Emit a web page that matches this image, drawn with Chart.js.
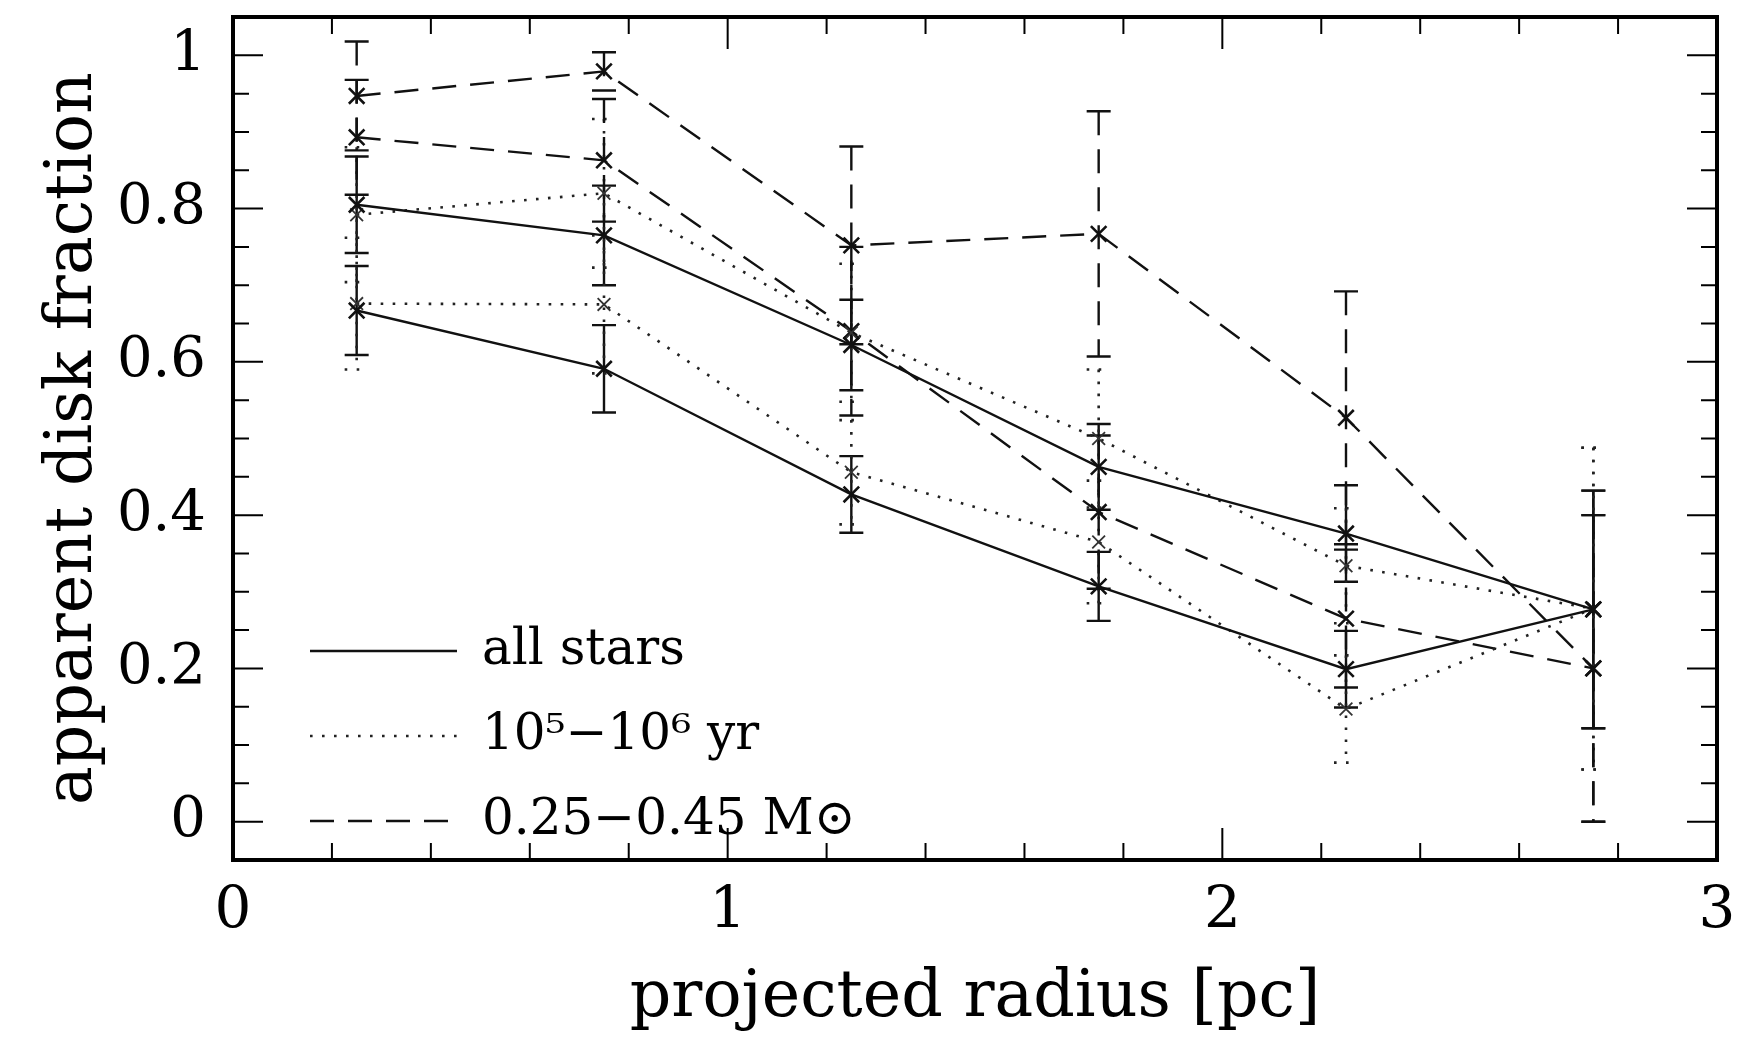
<!DOCTYPE html>
<html><head><meta charset="utf-8">
<script src="https://cdn.jsdelivr.net/npm/chart.js@4.4.1/dist/chart.umd.min.js"></script>
<style>html,body{margin:0;padding:0;background:#fff;} canvas{display:block;}</style>
</head><body>
<canvas id="c" width="1748" height="1038"></canvas>
<script>
// ---------- data ----------
const radius = [0.25, 0.75, 1.25, 1.75, 2.25, 2.75];
const allStarsHigh    = [0.805, 0.765, 0.622, 0.463, 0.376, 0.277];
const allStarsHighErr = [0.063, 0.065, 0.059, 0.056, 0.063, 0.155];
const allStarsLow     = [0.667, 0.591, 0.427, 0.307, 0.199, 0.277];
const allStarsLowErr  = [0.058, 0.057, 0.050, 0.045, 0.050, 0.155];
const youngHigh       = [0.792, 0.820, 0.638, 0.500, 0.334, 0.278];
const youngHighErr    = [0.088, 0.097, 0.090, 0.090, 0.075, 0.210];
const youngLow        = [0.676, 0.675, 0.456, 0.365, 0.147, 0.278];
const youngLowErr     = [0.086, 0.090, 0.068, 0.080, 0.070, 0.210];
const massHigh        = [0.947, 0.979, 0.752, 0.767, 0.527, 0.200];
const massHighErr     = [0.071, 0.025, 0.129, 0.160, 0.165, 0.200];
const massLow         = [0.893, 0.863, 0.640, 0.404, 0.265, 0.200];
const massLowErr      = [0.075, 0.080, 0.110, 0.100, 0.090, 0.200];
const legendLabels = ['all stars', '10\u2075\u221210\u2076 yr', '0.25\u22120.45 M\u2299'];
const xTickValues = [0, 1, 2, 3];
const xTickLabels = ['0', '1', '2', '3'];
const yTickValues = [0, 0.2, 0.4, 0.6, 0.8, 1];
const yTickLabels = ['0', '0.2', '0.4', '0.6', '0.8', '1'];
const xMinorStep = 0.2, yMinorStep = 0.05;

// ---------- styles ----------
const FAMILY = "'DejaVu Serif', serif";
const INK = '#111';
const SOLID = [], DOTTED = [2.6, 9.4], DASHED = [24, 14];

function series(label, vals, errs, dash, dotted, legendItem) {
  return {
    label: label,
    data: vals.map((v, i) => ({x: radius[i], y: v})),
    errors: errs,
    showInLegend: legendItem,
    borderColor: dotted ? '#222' : INK,
    borderWidth: dotted ? 2.6 : 2.4,
    borderDash: dash,
    borderCapStyle: 'butt',
    tension: 0,
    fill: false,
    pointStyle: 'crossRot',
    pointRadius: dotted ? 9 : 11,
    pointBorderWidth: dotted ? 1.8 : 2.6,
    pointBorderColor: dotted ? '#333' : INK,
    pointBackgroundColor: 'rgba(0,0,0,0)',
    pointHoverRadius: 11
  };
}

const datasets = [
  series(legendLabels[0], allStarsHigh, allStarsHighErr, SOLID, false, true),
  series(legendLabels[0], allStarsLow, allStarsLowErr, SOLID, false, false),
  series(legendLabels[1], youngHigh, youngHighErr, DOTTED, true, true),
  series(legendLabels[1], youngLow, youngLowErr, DOTTED, true, false),
  series(legendLabels[2], massHigh, massHighErr, DASHED, false, true),
  series(legendLabels[2], massLow, massLowErr, DASHED, false, false)
];

// ---------- plugins ----------
const errorBars = {
  id: 'errorBars',
  beforeDatasetsDraw(chart) {
    const ctx = chart.ctx, xs = chart.scales.x, ys = chart.scales.y;
    chart.data.datasets.forEach((ds) => {
      ctx.save();
      ctx.strokeStyle = ds.borderColor;
      ctx.lineWidth = ds.borderWidth;
      ctx.setLineDash(ds.borderDash || []);
      ds.data.forEach((p, j) => {
        const e = ds.errors[j];
        const px = xs.getPixelForValue(p.x);
        const yt = ys.getPixelForValue(p.y + e);
        const yb = ys.getPixelForValue(p.y - e);
        ctx.beginPath();
        ctx.moveTo(px, yt); ctx.lineTo(px, yb);
        ctx.moveTo(px - 12, yt); ctx.lineTo(px + 12, yt);
        ctx.moveTo(px - 12, yb); ctx.lineTo(px + 12, yb);
        ctx.stroke();
      });
      ctx.restore();
    });
  }
};

const frameTicks = {
  id: 'frameTicks',
  afterDraw(chart) {
    const ctx = chart.ctx, a = chart.chartArea, xs = chart.scales.x, ys = chart.scales.y;
    ctx.save();
    ctx.strokeStyle = '#000';
    ctx.setLineDash([]);
    ctx.lineWidth = 2;
    ctx.beginPath();
    for (let v = 0; v <= xs.max + 1e-9; v += xMinorStep) {
      const vv = Math.round(v * 1000) / 1000;
      if (vv <= xs.min || vv >= xs.max) continue;
      const major = xTickValues.includes(vv);
      const L = major ? 32 : 17;
      const px = xs.getPixelForValue(vv);
      ctx.moveTo(px, a.bottom); ctx.lineTo(px, a.bottom - L);
      ctx.moveTo(px, a.top); ctx.lineTo(px, a.top + L);
    }
    for (let v = 0; v <= ys.max + 1e-9; v += yMinorStep) {
      const vv = Math.round(v * 1000) / 1000;
      if (vv <= ys.min || vv >= ys.max) continue;
      const major = yTickValues.includes(vv);
      const L = major ? 30 : 16;
      const py = ys.getPixelForValue(vv);
      ctx.moveTo(a.left, py); ctx.lineTo(a.left + L, py);
      ctx.moveTo(a.right, py); ctx.lineTo(a.right - L, py);
    }
    ctx.stroke();
    ctx.lineWidth = 4;
    ctx.strokeRect(a.left, a.top, a.right - a.left, a.bottom - a.top);
    ctx.restore();
  }
};

const legendPlace = {
  id: 'legendPlace',
  afterLayout(chart) {
    const lg = chart.legend, a = chart.chartArea;
    if (!lg) return;
    lg.left = a.left + 42;
    lg.right = a.right;
    lg.top = a.top;
    lg.bottom = a.bottom + 21;
  }
};

// ---------- chart ----------
new Chart(document.getElementById('c'), {
  type: 'line',
  data: { datasets: datasets },
  options: {
    responsive: false,
    animation: false,
    devicePixelRatio: 1,
    layout: { padding: { left: 0, top: 17, right: 31, bottom: 0 } },
    plugins: {
      tooltip: { enabled: false },
      legend: {
        position: 'chartArea',
        align: 'end',
        labels: {
          filter: (item, data) => data.datasets[item.datasetIndex].showInLegend,
          generateLabels: (chart) => {
            const items = Chart.defaults.plugins.legend.labels.generateLabels(chart);
            return items.map((it) => {
              const ds = chart.data.datasets[it.datasetIndex];
              it.lineDash = ds.borderDash;
              it.lineWidth = ds.borderWidth;
              it.strokeStyle = ds.borderColor;
              it.lineCap = 'butt';
              it.pointStyle = 'line';
              return it;
            });
          },
          usePointStyle: true,
          pointStyle: 'line',
          pointStyleWidth: 147,
          padding: 35,
          color: '#000',
          font: { family: FAMILY, size: 50 }
        }
      }
    },
    scales: {
      x: {
        type: 'linear', min: 0, max: 3,
        afterBuildTicks: (s) => { s.ticks = xTickValues.map(v => ({value: v})); },
        afterFit: (s) => { s.height = 178; s.paddingLeft = 0; s.paddingRight = 0; },
        grid: { display: false, drawTicks: false },
        border: { display: false },
        ticks: {
          autoSkip: false, maxRotation: 0, padding: 17, color: '#000',
          font: { family: FAMILY, size: 58 },
          callback: (v) => xTickLabels[xTickValues.indexOf(v)]
        },
        title: {
          display: true, text: 'projected radius [pc]', color: '#000',
          font: { family: FAMILY, size: 65 }, padding: { top: 0, bottom: 0 }
        }
      },
      y: {
        type: 'linear', min: -0.05, max: 1.05,
        afterBuildTicks: (s) => { s.ticks = yTickValues.map(v => ({value: v})); },
        afterFit: (s) => { s.width = 233; s.paddingTop = 0; s.paddingBottom = 0; },
        grid: { display: false, drawTicks: false },
        border: { display: false },
        ticks: {
          autoSkip: false, padding: 27, color: '#000',
          font: { family: FAMILY, size: 56 },
          callback: (v) => yTickLabels[yTickValues.indexOf(v)]
        },
        title: {
          display: true, text: 'apparent disk fraction', color: '#000',
          font: { family: FAMILY, size: 65 }, padding: { top: 35, bottom: 0 }
        }
      }
    }
  },
  plugins: [errorBars, frameTicks, legendPlace]
});
</script>
</body></html>
